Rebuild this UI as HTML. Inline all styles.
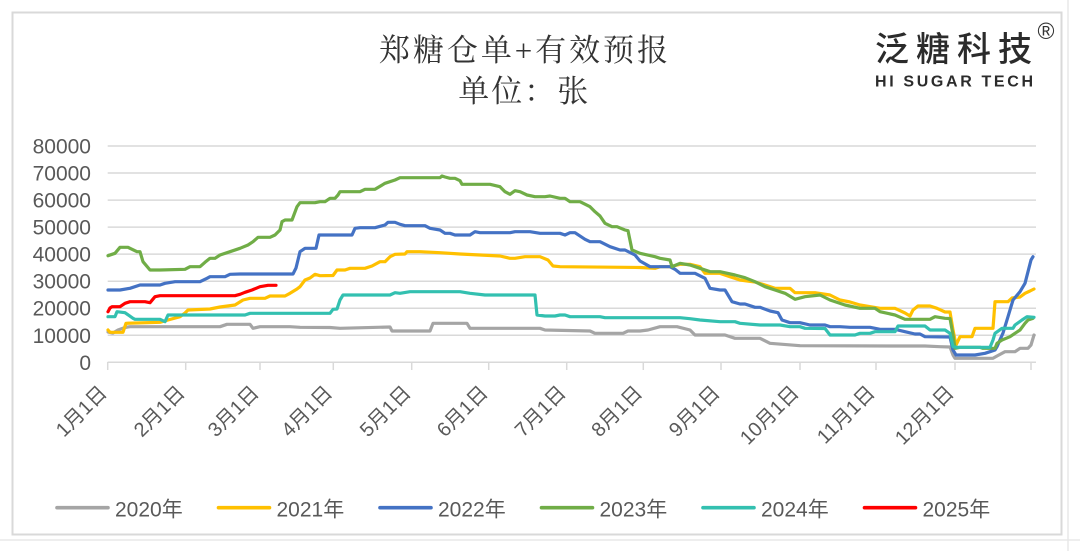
<!DOCTYPE html>
<html><head><meta charset="utf-8"><style>
html,body{margin:0;padding:0;background:#fff;}
svg{display:block;}
.yl{font-family:"Liberation Sans","Noto Sans CJK SC",sans-serif;font-size:21px;fill:#595959;text-anchor:end;}
.xl{font-family:"Liberation Sans","Noto Sans CJK SC",sans-serif;font-size:20px;fill:#595959;text-anchor:end;}
.lg{font-family:"Liberation Sans","Noto Sans CJK SC",sans-serif;font-size:21px;fill:#595959;}
.s{fill:none;stroke-width:3.2;stroke-linejoin:round;stroke-linecap:round;}
</style></head><body>
<svg width="1080" height="551" viewBox="0 0 1080 551" xmlns="http://www.w3.org/2000/svg">
<rect x="0" y="0" width="1080" height="551" fill="#fff"/>
<line x1="1068" y1="0" x2="1068" y2="551" stroke="#e8e8e8" stroke-width="1.5"/>
<line x1="0" y1="540" x2="1080" y2="540" stroke="#e8e8e8" stroke-width="1.5"/>
<rect x="12.5" y="12.5" width="1049" height="522" fill="#fff" stroke="#d9d9d9" stroke-width="2"/>

<!-- title -->
<text x="523.5" y="61" text-anchor="middle" font-family="'Liberation Serif','Noto Serif CJK SC',serif" font-size="31" fill="#333" textLength="289" lengthAdjust="spacing">郑糖仓单+有效预报</text>
<text x="523.3" y="102" text-anchor="middle" font-family="'Liberation Serif','Noto Serif CJK SC',serif" font-size="31" fill="#333" textLength="130" lengthAdjust="spacing">单位：张</text>

<!-- logo -->
<text x="875" y="61" font-family="'Noto Sans CJK SC',sans-serif" font-size="34" font-weight="500" fill="#2b2b2b" textLength="157" lengthAdjust="spacing">泛糖科技</text>
<text x="875" y="86.7" font-family="'Liberation Sans',sans-serif" font-size="16" font-weight="bold" fill="#2b2b2b" textLength="158" lengthAdjust="spacing">HI SUGAR TECH</text>
<text x="1046" y="39" text-anchor="middle" font-family="'Liberation Sans',sans-serif" font-size="23" fill="#333">®</text>

<!-- gridlines -->
<g stroke="#d9d9d9" stroke-width="1.5">
<line x1="107.7" y1="146" x2="1036" y2="146"/>
<line x1="107.7" y1="173" x2="1036" y2="173"/>
<line x1="107.7" y1="200.1" x2="1036" y2="200.1"/>
<line x1="107.7" y1="227.1" x2="1036" y2="227.1"/>
<line x1="107.7" y1="254.1" x2="1036" y2="254.1"/>
<line x1="107.7" y1="281.2" x2="1036" y2="281.2"/>
<line x1="107.7" y1="308.2" x2="1036" y2="308.2"/>
<line x1="107.7" y1="335.3" x2="1036" y2="335.3"/>
<line x1="107.7" y1="362.3" x2="1036" y2="362.3"/>
<line x1="107.7" y1="362" x2="107.7" y2="370"/>
<line x1="185.7" y1="362" x2="185.7" y2="370"/>
<line x1="260" y1="362" x2="260" y2="370"/>
<line x1="333.3" y1="362" x2="333.3" y2="370"/>
<line x1="411.7" y1="362" x2="411.7" y2="370"/>
<line x1="488.7" y1="362" x2="488.7" y2="370"/>
<line x1="566.7" y1="362" x2="566.7" y2="370"/>
<line x1="643.3" y1="362" x2="643.3" y2="370"/>
<line x1="721" y1="362" x2="721" y2="370"/>
<line x1="800" y1="362" x2="800" y2="370"/>
<line x1="876" y1="362" x2="876" y2="370"/>
<line x1="955" y1="362" x2="955" y2="370"/>
<line x1="1031" y1="362" x2="1031" y2="370"/>
</g>

<!-- y labels -->
<text class="yl" x="91" y="153.5">80000</text>
<text class="yl" x="91" y="180.5">70000</text>
<text class="yl" x="91" y="207.6">60000</text>
<text class="yl" x="91" y="234.6">50000</text>
<text class="yl" x="91" y="261.6">40000</text>
<text class="yl" x="91" y="288.7">30000</text>
<text class="yl" x="91" y="315.7">20000</text>
<text class="yl" x="91" y="342.8">10000</text>
<text class="yl" x="91" y="369.8">0</text>

<!-- x labels -->
<text class="xl" x="108" y="394" transform="rotate(-45 108 394)">1月1日</text>
<text class="xl" x="186" y="394" transform="rotate(-45 186 394)">2月1日</text>
<text class="xl" x="260" y="394" transform="rotate(-45 260 394)">3月1日</text>
<text class="xl" x="333.5" y="394" transform="rotate(-45 333.5 394)">4月1日</text>
<text class="xl" x="412" y="394" transform="rotate(-45 412 394)">5月1日</text>
<text class="xl" x="489" y="394" transform="rotate(-45 489 394)">6月1日</text>
<text class="xl" x="567" y="394" transform="rotate(-45 567 394)">7月1日</text>
<text class="xl" x="643.5" y="394" transform="rotate(-45 643.5 394)">8月1日</text>
<text class="xl" x="721" y="394" transform="rotate(-45 721 394)">9月1日</text>
<text class="xl" x="800" y="394" transform="rotate(-45 800 394)">10月1日</text>
<text class="xl" x="876" y="394" transform="rotate(-45 876 394)">11月1日</text>
<text class="xl" x="955" y="394" transform="rotate(-45 955 394)">12月1日</text>

<!-- series -->
<polyline class="s" stroke="#A5A5A5" points="108,332 113,333 118,330 125,327.5 130,326.7 220,326.7 227,324.3 250,324.3 253,328.3 260,326.7 290,326.7 300,327.3 330,327.5 340,328.3 390,327 392,331 430,331 433,323.3 467,323.3 470,328.3 540,328.3 545,330 590,331 595,333.3 623,333.3 628,331 640,331 648,330 660,326.7 677,326.7 690,330 695,335 725,335 735,338.3 760,338.3 770,343.3 800,345.7 900,346 925,346 940,346.7 950,347 953,355 955,358.3 993,358.3 997,356 1005,351.7 1015,351.7 1020,348.3 1028,348.3 1031,345 1034,335"/>
<polyline class="s" stroke="#FFC000" points="108,330 110,332.3 123,332.3 126,323.3 160,322.3 168,320 180,316.7 185,313 188,310 210,309 220,307 235,305 243,300 250,298.3 265,298.3 270,296 285,296 290,293.3 297,289 300,286.7 305,280 310,278 315,274.3 320,275.7 333,275.5 337,270 345,270 350,268.3 365,268.3 372,266 380,261.7 385,261.7 390,256.7 395,254.3 405,254 407,251.7 420,251.7 440,252.7 460,254 480,255 500,256 510,258.3 515,258.3 525,256.7 540,256.7 548,260 553,266 560,266.7 640,267.5 655,268.3 660,266.7 670,266.7 680,264.3 690,264.3 700,266.7 705,273.3 720,273.3 730,276.7 740,280 755,282 765,285 775,288.3 790,288.3 795,292.7 815,292.7 830,295 840,300 850,302 860,305 880,308.3 895,308.3 905,313 910,316 913,310 918,306 930,306 937,308.3 945,312 950,312 953,330 956,345 960,336.7 972,336.7 975,328.3 993,328.3 995,301.7 1008,301.7 1012,298 1020,297 1025,293.3 1030,291 1034,289"/>
<polyline class="s" stroke="#4472C4" points="108,290 120,290 130,288.3 140,285 160,285 165,283.3 175,281.7 200,281.7 207,278.3 210,276.7 225,276.7 230,274.3 240,274 293,274 296,268 300,251.7 305,248.3 316,248.3 319,235 352,235 355,228.3 360,227.7 375,227.7 385,225 388,222.3 395,222.3 400,224.3 405,225.7 425,225.7 430,228.3 440,230 445,233.3 450,233.3 455,235 470,235 475,231.7 480,232.7 510,232.7 515,231.7 530,231.7 540,233.3 560,233.3 565,235 570,232.7 575,232.7 585,239.3 590,241.7 600,241.7 610,246.7 620,250 625,250 635,255 640,261 650,266.7 670,266.7 675,269.3 680,273.3 695,273.3 705,278.3 710,288.3 720,290 725,290 732,301.7 740,304 745,304 755,307.3 760,307.3 770,311 778,312.7 782,320 790,322.7 800,322.7 810,325 825,325 830,326.7 840,326.7 850,327.3 870,327.3 880,329.3 895,329.3 905,331.7 915,334 920,334 925,336.7 950,337 953,350 956,355 975,355 985,353.3 990,351.7 995,350 997,346.7 1003,333 1008,316.7 1013,300 1020,291.7 1025,283.3 1028,271.7 1031,260 1033,256.7"/>
<polyline class="s" stroke="#70AD47" points="108,255.7 115,253.3 120,247.3 128,247.3 130,248.3 137,251.7 140,251.7 143,261.7 150,270 160,270 185,269.3 190,266.7 200,266.7 205,262.3 210,258.3 215,258.3 220,255 230,251.7 240,248.3 248,245 253,241.7 258,237.3 270,237.3 275,235 280,230 282,221.7 285,220 292,220 297,206.7 300,202.7 315,202.7 320,201.7 325,201.7 330,198.3 335,198.3 338,195 340,191.7 360,191.7 365,189.3 375,189.3 385,183.3 395,180 400,177.7 440,177.7 442,176 445,177 450,178.3 455,178.3 460,180.7 462,184.3 490,184.3 500,186.7 505,191.7 510,194.3 515,190.7 520,191.7 527,195 535,196.7 545,196.7 550,196 560,198.3 565,198.3 570,201.7 580,201.7 590,206.7 595,211.7 600,216 605,223.3 612,226.7 617,226.7 625,230 628,230.7 632,250 640,253.3 655,256.7 660,258.3 670,260 672,266.7 680,263.3 690,265 700,268.3 710,271.7 720,271.7 735,275 745,277.7 755,281.7 765,286.7 775,290 785,293.3 795,299.3 805,296.7 820,295 830,300 845,305 860,308.3 875,308.3 880,311.7 895,315 905,319.3 930,319.3 935,316.7 945,318.3 950,318.5 953,335 955,348.3 960,347.3 980,347.3 983,348.3 995,348.3 997,343.3 1002,340 1010,336.7 1015,333.3 1020,330 1025,323.3 1028,320 1033,318.3"/>
<polyline class="s" stroke="#33C0B0" points="108,316.7 115,316.7 117,311.7 125,312.7 133,318.3 135,319.3 160,319.3 165,321.7 168,315 245,315 250,313.3 330,313.3 333,309.3 337,309 340,300 343,295 390,295 395,292.7 400,293.3 410,291.7 460,291.7 470,293.3 485,295 535,295 537,315 545,316 555,316 560,315 565,315 570,316.7 600,316.7 605,317.7 680,317.7 690,318.7 700,320 720,321.7 735,321.7 740,323.3 760,325 780,325 790,326.7 800,326.7 805,328.3 825,328.5 830,335 855,335 860,333.3 870,333.3 875,331.7 895,331.7 898,326 925,326 930,330 945,330 950,333.3 953,346.7 957,347.3 990,347.3 993,340 995,333.3 1002,328.3 1013,328.3 1015,325 1022,320 1027,316.7 1034,317.3"/>
<polyline class="s" stroke="#FF0000" points="108,311.7 110,308 112,306.7 120,306.7 125,303.3 130,301.7 145,301.7 150,302.7 155,296.7 160,295.7 235,295.7 240,294.3 245,292.3 252,290 260,286.7 268,285.3 276,285.3"/>

<!-- legend -->
<g stroke-width="3.6" stroke-linecap="round">
<line x1="57" y1="507.7" x2="108" y2="507.7" stroke="#A5A5A5"/>
<line x1="218.5" y1="507.7" x2="269.5" y2="507.7" stroke="#FFC000"/>
<line x1="380" y1="507.7" x2="431" y2="507.7" stroke="#4472C4"/>
<line x1="541.5" y1="507.7" x2="592.5" y2="507.7" stroke="#70AD47"/>
<line x1="703" y1="507.7" x2="754" y2="507.7" stroke="#33C0B0"/>
<line x1="864.5" y1="507.7" x2="915.5" y2="507.7" stroke="#FF0000"/>
</g>
<text class="lg" x="115" y="516.5">2020年</text>
<text class="lg" x="276.5" y="516.5">2021年</text>
<text class="lg" x="438" y="516.5">2022年</text>
<text class="lg" x="599.5" y="516.5">2023年</text>
<text class="lg" x="761" y="516.5">2024年</text>
<text class="lg" x="922.5" y="516.5">2025年</text>
</svg>
</body></html>
